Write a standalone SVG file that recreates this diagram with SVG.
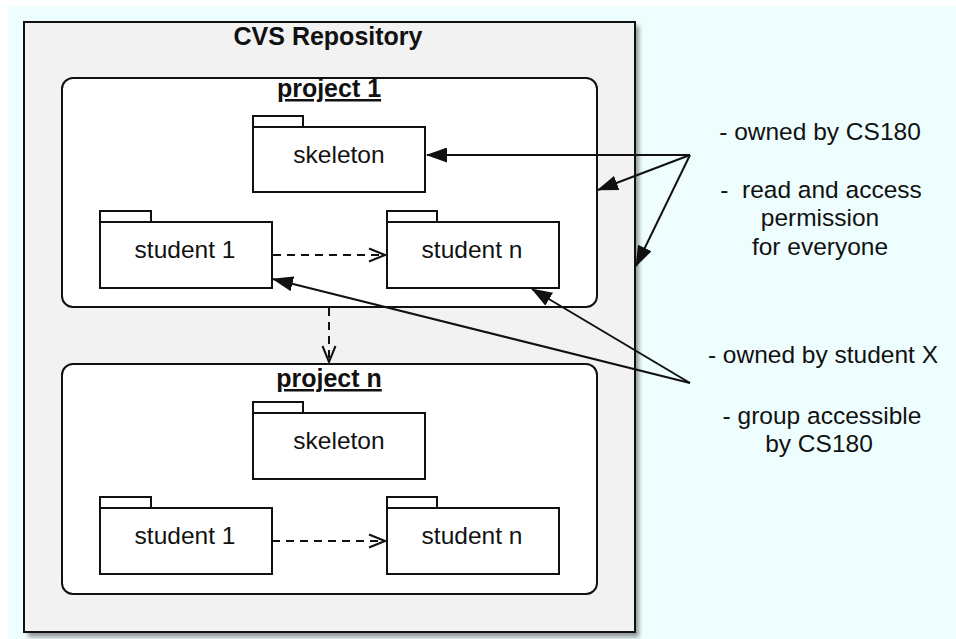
<svg xmlns="http://www.w3.org/2000/svg" width="956" height="639" viewBox="0 0 956 639">
  <style>
    text { font-family: "Liberation Sans", Arial, Helvetica, sans-serif; fill: #111; }
    .title { font-size: 25px; font-weight: bold; text-anchor: middle; }
    .proj { font-size: 25px; font-weight: bold; text-anchor: middle; text-decoration: underline; }
    .pkg { font-size: 24.5px; text-anchor: middle; }
    .note { font-size: 24.5px; text-anchor: middle; }
    .box { fill: #ffffff; stroke: #111; stroke-width: 2; }
    .frame { fill: #ffffff; stroke: #111; stroke-width: 2; }
    .dep { fill: none; stroke: #111; stroke-width: 2; stroke-dasharray: 8 6; }
    .assoc { fill: none; stroke: #111; stroke-width: 2; }
  </style>
  <defs>
    <marker id="open" viewBox="0 0 18 16" refX="17" refY="8" markerWidth="18" markerHeight="16" markerUnits="userSpaceOnUse" orient="auto">
      <path d="M1,1.5 L17,8 L1,14.5" fill="none" stroke="#111" stroke-width="2"/>
    </marker>
    <marker id="solid" viewBox="0 0 21 15" refX="20" refY="7.5" markerWidth="21" markerHeight="15" markerUnits="userSpaceOnUse" orient="auto">
      <path d="M0,0 L21,7.5 L0,15 Z" fill="#111"/>
    </marker>
    <filter id="shadow" x="-5%" y="-5%" width="110%" height="110%">
      <feGaussianBlur stdDeviation="2"/>
    </filter>
  </defs>

  <!-- page background -->
  <rect x="0" y="0" width="956" height="639" fill="#ffffff"/>
  <rect x="8" y="6" width="948" height="633" fill="#eefdfd"/>

  <!-- repository container -->
  <g id="repository">
    <rect x="28" y="26" width="611" height="611" fill="#555" opacity="0.6" filter="url(#shadow)"/>
    <rect x="24" y="22" width="611" height="610" fill="#f2f2f2" stroke="#111" stroke-width="2"/>
    <text class="title" x="328" y="45">CVS Repository</text>
  </g>

  <!-- project 1 -->
  <g id="project1">
    <rect class="frame" x="62" y="78" width="535" height="229" rx="11" ry="11"/>
    <text class="proj" x="329" y="97">project 1</text>
  </g>
  <g id="p1-skeleton">
    <rect class="box" x="253" y="116" width="50" height="11"/>
    <rect class="box" x="253" y="127" width="172" height="65"/>
    <text class="pkg" x="339" y="163">skeleton</text>
  </g>
  <g id="p1-student1">
    <rect class="box" x="100" y="211" width="51" height="11"/>
    <rect class="box" x="100" y="222" width="172" height="66"/>
    <text class="pkg" x="185" y="258">student 1</text>
  </g>
  <g id="p1-studentn">
    <rect class="box" x="387" y="211" width="50" height="11"/>
    <rect class="box" x="387" y="222" width="172" height="66"/>
    <text class="pkg" x="472" y="258">student n</text>
  </g>

  <!-- project n -->
  <g id="projectn">
    <rect class="frame" x="62" y="364" width="535" height="230" rx="11" ry="11"/>
    <text class="proj" x="329" y="387">project n</text>
  </g>
  <g id="pn-skeleton">
    <rect class="box" x="253" y="402" width="50" height="11"/>
    <rect class="box" x="253" y="413" width="172" height="66"/>
    <text class="pkg" x="339" y="449">skeleton</text>
  </g>
  <g id="pn-student1">
    <rect class="box" x="100" y="497" width="51" height="11"/>
    <rect class="box" x="100" y="508" width="172" height="66"/>
    <text class="pkg" x="185" y="544">student 1</text>
  </g>
  <g id="pn-studentn">
    <rect class="box" x="387" y="497" width="50" height="11"/>
    <rect class="box" x="387" y="508" width="172" height="66"/>
    <text class="pkg" x="472" y="544">student n</text>
  </g>

  <!-- notes -->
  <g id="note-cs180">
    <text class="note" x="820" y="140">- owned by CS180</text>
    <text class="note" x="821" y="198" xml:space="preserve">-  read and access</text>
    <text class="note" x="820" y="226">permission</text>
    <text class="note" x="820" y="255">for everyone</text>
  </g>
  <g id="note-student">
    <text class="note" x="823" y="363">- owned by student X</text>
    <text class="note" x="822" y="424">- group accessible</text>
    <text class="note" x="819" y="452">by CS180</text>
  </g>

  <!-- connectors -->
  <g id="connectors">
    <line class="dep" x1="273" y1="255" x2="385" y2="255" marker-end="url(#open)"/>
    <line class="dep" x1="272" y1="541" x2="385" y2="541" marker-end="url(#open)"/>
    <line class="dep" x1="329" y1="308" x2="329" y2="362" marker-end="url(#open)"/>

    <line class="assoc" x1="690" y1="155" x2="427" y2="155" marker-end="url(#solid)"/>
    <line class="assoc" x1="690" y1="155" x2="598" y2="190" marker-end="url(#solid)"/>
    <line class="assoc" x1="690" y1="155" x2="636" y2="266" marker-end="url(#solid)"/>

    <line class="assoc" x1="690" y1="383" x2="273" y2="279" marker-end="url(#solid)"/>
    <line class="assoc" x1="690" y1="383" x2="532" y2="289" marker-end="url(#solid)"/>
  </g>
</svg>
